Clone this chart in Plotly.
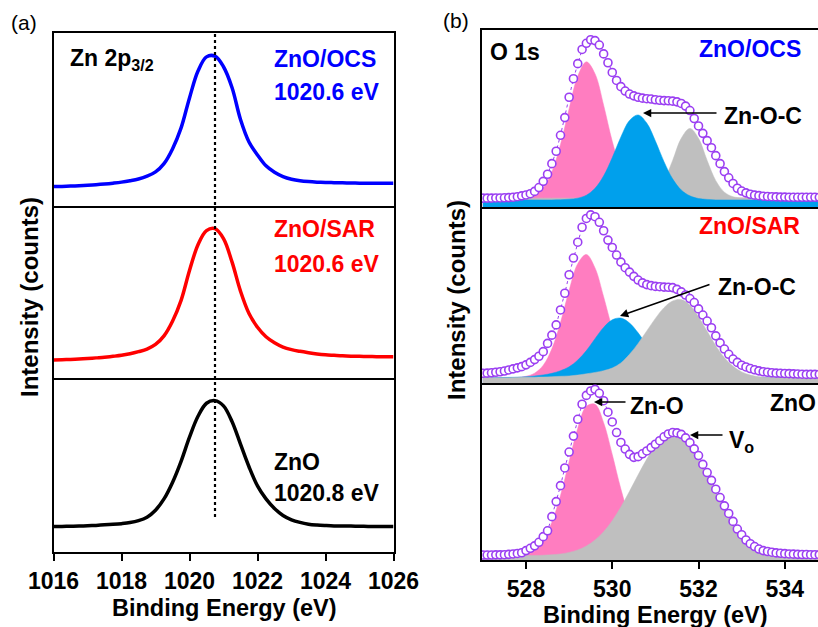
import numpy as np
import plotly.graph_objects as go

# ---------------- data : Zn 2p3/2 (panel a) ----------------
zn_energy = np.round(np.arange(1016.0, 1026.01, 0.25), 2)
zn_ocs = [0.112, 0.113, 0.115, 0.117, 0.120,
          0.123, 0.127, 0.132, 0.138, 0.146,
          0.156, 0.172, 0.197, 0.245, 0.33,
          0.45, 0.625, 0.78, 0.862, 0.866,
          0.805, 0.685, 0.50, 0.37, 0.295,
          0.232, 0.195, 0.17, 0.155, 0.146,
          0.141, 0.138, 0.136, 0.135, 0.134,
          0.133, 0.132, 0.132, 0.131, 0.131,
          0.131]
zn_sar = [0.104, 0.106, 0.108, 0.110, 0.113,
          0.117, 0.121, 0.126, 0.132, 0.141,
          0.153, 0.168, 0.195, 0.245, 0.33,
          0.45, 0.625, 0.775, 0.857, 0.868,
          0.81, 0.675, 0.505, 0.375, 0.295,
          0.24, 0.205, 0.18, 0.165, 0.155,
          0.147, 0.14, 0.135, 0.132, 0.129,
          0.127, 0.126, 0.125, 0.124, 0.124,
          0.124]
zn_zno = [0.147, 0.147, 0.148, 0.149, 0.151,
          0.153, 0.156, 0.159, 0.163, 0.169,
          0.18, 0.2, 0.24, 0.305, 0.40,
          0.52, 0.66, 0.78, 0.855, 0.87,
          0.84, 0.75, 0.62, 0.49, 0.38,
          0.305, 0.25, 0.21, 0.185, 0.17,
          0.16, 0.155, 0.152, 0.15, 0.15,
          0.149, 0.148, 0.147, 0.146, 0.146,
          0.146]
zn_ref_line = 1020.75
zn_ticks = [1016, 1018, 1020, 1022, 1024, 1026]

# ---------------- data : O 1s (panel b) ----------------
o_energy = np.round(np.arange(527.0, 534.81, 0.1), 2)
o_ocs = [0.050, 0.050, 0.050, 0.051, 0.051, 0.052, 0.053, 0.055, 0.058, 0.063,
         0.068, 0.075, 0.088, 0.11, 0.145, 0.185, 0.245, 0.315, 0.405, 0.505,
         0.62, 0.725, 0.81, 0.89, 0.925, 0.945, 0.94, 0.915, 0.865, 0.815,
         0.76, 0.715, 0.68, 0.655, 0.638, 0.628, 0.62, 0.615, 0.612, 0.61,
         0.606, 0.603, 0.601, 0.60, 0.598, 0.594, 0.585, 0.57, 0.545, 0.50,
         0.458, 0.416, 0.375, 0.335, 0.29, 0.245, 0.20, 0.165, 0.133, 0.106,
         0.09, 0.08, 0.072, 0.067, 0.064, 0.061, 0.059, 0.058, 0.057, 0.056,
         0.056, 0.055, 0.055, 0.055, 0.055, 0.055, 0.055, 0.055, 0.055]
o_sar = [0.055, 0.056, 0.058, 0.061, 0.064, 0.068, 0.074, 0.080, 0.086, 0.093,
         0.103, 0.117, 0.133, 0.152, 0.178, 0.225, 0.272, 0.33, 0.415, 0.51,
         0.615, 0.71, 0.80, 0.885, 0.935, 0.955, 0.945, 0.913, 0.865, 0.812,
         0.77, 0.727, 0.687, 0.655, 0.63, 0.606, 0.585, 0.569, 0.559, 0.553,
         0.549, 0.547, 0.545, 0.544, 0.542, 0.532, 0.518, 0.50, 0.48, 0.457,
         0.421, 0.386, 0.352, 0.314, 0.268, 0.228, 0.193, 0.163, 0.136, 0.117,
         0.101, 0.091, 0.082, 0.075, 0.069, 0.064, 0.061, 0.058, 0.056, 0.055,
         0.054, 0.053, 0.052, 0.051, 0.050, 0.049, 0.049, 0.049, 0.049]
o_zno = [0.028, 0.028, 0.028, 0.029, 0.029, 0.030, 0.032, 0.034, 0.037, 0.041,
         0.053, 0.066, 0.08, 0.10, 0.132, 0.165, 0.245, 0.33, 0.42, 0.52,
         0.61, 0.70, 0.795, 0.88, 0.93, 0.955, 0.964, 0.942, 0.90, 0.835,
         0.78, 0.72, 0.664, 0.627, 0.597, 0.58, 0.584, 0.60, 0.616, 0.635,
         0.654, 0.674, 0.696, 0.712, 0.72, 0.718, 0.71, 0.69, 0.663, 0.628,
         0.59, 0.54, 0.494, 0.45, 0.40, 0.353, 0.306, 0.263, 0.218, 0.175,
         0.143, 0.113, 0.092, 0.076, 0.062, 0.053, 0.048, 0.044, 0.04, 0.038,
         0.036, 0.034, 0.033, 0.032, 0.031, 0.031, 0.030, 0.030, 0.030]

fit_energy = np.round(np.arange(527.0, 534.81, 0.2), 2)
# ZnO/OCS fitted components
ocs_zno_peak = [0.05, 0.05, 0.05, 0.05, 0.051, 0.055, 0.069, 0.109, 0.198, 0.353,
                0.555, 0.739, 0.82, 0.753, 0.575, 0.371, 0.21, 0.116, 0.072, 0.056,
                0.051, 0.05, 0.05, 0.05, 0.05, 0.05, 0.05, 0.05, 0.05, 0.05,
                0.05, 0.05, 0.05, 0.05, 0.05, 0.05, 0.05, 0.05, 0.05, 0.05]
ocs_zoc_peak = [0.04, 0.04, 0.04, 0.04, 0.04, 0.04, 0.04, 0.04, 0.04, 0.041,
                0.044, 0.05, 0.067, 0.106, 0.176, 0.279, 0.396, 0.489, 0.52, 0.474,
                0.373, 0.256, 0.159, 0.096, 0.063, 0.048, 0.043, 0.04, 0.04, 0.04,
                0.04, 0.04, 0.04, 0.04, 0.04, 0.04, 0.04, 0.04, 0.04, 0.04]
ocs_vo_peak = [0.05, 0.05, 0.05, 0.05, 0.05, 0.05, 0.05, 0.05, 0.05, 0.05,
               0.05, 0.05, 0.05, 0.05, 0.05, 0.05, 0.05, 0.05, 0.052, 0.058,
               0.084, 0.149, 0.263, 0.388, 0.444, 0.388, 0.263, 0.149, 0.084, 0.058,
               0.052, 0.05, 0.05, 0.05, 0.05, 0.05, 0.05, 0.05, 0.05, 0.05]
# ZnO/SAR fitted components
sar_zno_peak = [0.03, 0.03, 0.03, 0.03, 0.032, 0.038, 0.056, 0.101, 0.194, 0.344,
                0.527, 0.678, 0.73, 0.654, 0.49, 0.31, 0.171, 0.089, 0.05, 0.036,
                0.031, 0.03, 0.03, 0.03, 0.03, 0.03, 0.03, 0.03, 0.03, 0.03,
                0.03, 0.03, 0.03, 0.03, 0.03, 0.03, 0.03, 0.03, 0.03, 0.03]
sar_zoc_peak = [0.03, 0.03, 0.031, 0.032, 0.033, 0.035, 0.04, 0.046, 0.055, 0.07,
                0.092, 0.13, 0.184, 0.252, 0.316, 0.359, 0.369, 0.341, 0.285, 0.217,
                0.152, 0.102, 0.067, 0.047, 0.037, 0.033, 0.03, 0.03, 0.03, 0.03,
                0.03, 0.03, 0.03, 0.03, 0.03, 0.03, 0.03, 0.03, 0.03, 0.03]
sar_vo_peak = [0.03, 0.03, 0.03, 0.03, 0.031, 0.032, 0.033, 0.034, 0.036, 0.038,
               0.04, 0.045, 0.052, 0.06, 0.07, 0.085, 0.114, 0.163, 0.225, 0.296,
               0.367, 0.428, 0.466, 0.474, 0.442, 0.377, 0.294, 0.212, 0.144, 0.095,
               0.063, 0.045, 0.036, 0.032, 0.031, 0.03, 0.03, 0.03, 0.03, 0.03]
# ZnO fitted components
zno_zno_peak = [0.025, 0.025, 0.025, 0.026, 0.029, 0.038, 0.062, 0.115, 0.213, 0.365,
                0.556, 0.744, 0.868, 0.88, 0.776, 0.596, 0.401, 0.239, 0.131, 0.07,
                0.042, 0.031, 0.027, 0.025, 0.025, 0.025, 0.025, 0.025, 0.025, 0.025,
                0.025, 0.025, 0.025, 0.025, 0.025, 0.025, 0.025, 0.025, 0.025, 0.025]
zno_vo_peak = [0.025, 0.025, 0.025, 0.025, 0.025, 0.025, 0.025, 0.027, 0.03, 0.034,
               0.043, 0.057, 0.079, 0.113, 0.16, 0.222, 0.30, 0.388, 0.481, 0.57,
               0.644, 0.693, 0.71, 0.693, 0.644, 0.57, 0.481, 0.388, 0.29, 0.205,
               0.135, 0.088, 0.056, 0.04, 0.032, 0.028, 0.026, 0.025, 0.025, 0.025]
o_ticks = [528, 530, 532, 534]

# ---------------- styling ----------------
W, H = 818, 627
FONT = "Liberation Sans, Arial, sans-serif"
PINK = "#FF7DC0"
CYAN = "#00A0EC"
GRAY = "#BFBFBF"
PURPLE = "#9B3FF2"


def px(x):
    return x / W


def py(y):
    return 1 - y / H


fig = go.Figure()

left_sets = [("", zn_ocs, "#0000FF"), ("2", zn_sar, "#FF0000"), ("3", zn_zno, "#000000")]
for suf, vals, col in left_sets:
    fig.add_trace(go.Scatter(x=zn_energy, y=vals, mode="lines",
                             line=dict(color=col, width=3.5, shape="spline", smoothing=1),
                             xaxis="x" + suf, yaxis="y" + suf, showlegend=False, hoverinfo="skip"))

right_sets = [
    ("4", [(ocs_zno_peak, PINK), (ocs_vo_peak, GRAY), (ocs_zoc_peak, CYAN)], o_ocs),
    ("5", [(sar_zno_peak, PINK), (sar_zoc_peak, CYAN), (sar_vo_peak, GRAY)], o_sar),
    ("6", [(zno_zno_peak, PINK), (zno_vo_peak, GRAY)], o_zno),
]
for suf, comps, pts in right_sets:
    for vals, col in comps:
        fig.add_trace(go.Scatter(x=fit_energy, y=vals, mode="lines", fill="tozeroy",
                                 fillcolor=col, line=dict(color=col, width=0.5, shape="spline", smoothing=1),
                                 xaxis="x" + suf, yaxis="y" + suf, showlegend=False, hoverinfo="skip"))
    fig.add_trace(go.Scatter(x=o_energy, y=pts, mode="lines+markers",
                             line=dict(color=PURPLE, width=1, dash="dot"),
                             marker=dict(symbol="circle", size=8, color="white",
                                         line=dict(color=PURPLE, width=1.6)),
                             xaxis="x" + suf, yaxis="y" + suf, showlegend=False, hoverinfo="skip"))

tickfont = dict(family=FONT, size=23, color="black", weight="bold")
left_dom = [px(53.5), px(393.5)]
right_dom = [px(482), 1.0]
left_ydoms = [[py(206), py(33)], [py(378), py(206)], [py(552), py(378)]]
right_ydoms = [[py(207), py(30)], [py(383), py(207)], [py(560), py(383)]]

layout = dict(width=W, height=H, autosize=False,
              margin=dict(l=0, r=0, t=0, b=0, pad=0, autoexpand=False),
              paper_bgcolor="white", plot_bgcolor="white", showlegend=False)

for i, suf in enumerate(["", "2", "3"]):
    bottom = i == 2
    xa = dict(range=[1016, 1026], domain=left_dom, anchor="y" + suf, showline=True, linewidth=2,
              linecolor="black", mirror=(i == 0), showgrid=False, zeroline=False, automargin=False)
    if bottom:
        xa.update(ticks="outside", ticklen=7, tickwidth=2, tickcolor="black",
                  tickvals=zn_ticks, ticktext=[str(t) for t in zn_ticks], tickfont=tickfont)
    else:
        xa.update(showticklabels=False, ticks="")
    ya = dict(range=[0, 1], domain=left_ydoms[i], anchor="x" + suf, showline=True, linewidth=2,
              linecolor="black", mirror=True, showgrid=False, zeroline=False,
              showticklabels=False, ticks="", automargin=False)
    layout["xaxis" + suf] = xa
    layout["yaxis" + suf] = ya

for i, suf in enumerate(["4", "5", "6"]):
    bottom = i == 2
    xa = dict(range=[526.98, 534.77], domain=right_dom, anchor="y" + suf, showline=True, linewidth=2,
              linecolor="black", mirror=(i == 0), showgrid=False, zeroline=False, automargin=False)
    if bottom:
        xa.update(ticks="outside", ticklen=7, tickwidth=2, tickcolor="black",
                  tickvals=o_ticks, ticktext=[str(t) for t in o_ticks], tickfont=tickfont)
    else:
        xa.update(showticklabels=False, ticks="")
    ya = dict(range=[0, 1], domain=right_ydoms[i], anchor="x" + suf, showline=True, linewidth=2,
              linecolor="black", mirror=False, showgrid=False, zeroline=False,
              showticklabels=False, ticks="", automargin=False)
    layout["xaxis" + suf] = xa
    layout["yaxis" + suf] = ya

fig.update_layout(**layout)

fig.add_shape(type="line", xref="x3", yref="paper", x0=zn_ref_line, x1=zn_ref_line,
              y0=py(517), y1=py(34), line=dict(color="black", width=2.2, dash="dot"))


def text(x, y, s, size=23, color="black", xanchor="center", bold=True, angle=0):
    fig.add_annotation(x=px(x), y=py(y), xref="paper", yref="paper", text=s, showarrow=False,
                       xanchor=xanchor, yanchor="middle", textangle=angle,
                       font=dict(family=FONT, size=size, color=color,
                                 weight="bold" if bold else "normal"))


def arrow(hx, hy, tx, ty):
    fig.add_annotation(x=px(hx), y=py(hy), xref="paper", yref="paper", text="",
                       showarrow=True, ax=tx - hx, ay=ty - hy, axref="pixel", ayref="pixel",
                       arrowhead=2, arrowsize=1.1, arrowwidth=1.5, arrowcolor="black")


text(24, 22, "(a)", size=21, bold=False)
text(456, 21, "(b)", size=21, bold=False)

text(68, 59, "Zn 2p<sub>3/2</sub>", xanchor="left")
text(272, 59, "ZnO/OCS", color="#0000FF", xanchor="left")
text(272, 92, "1020.6 eV", color="#0000FF", xanchor="left")
text(272, 229, "ZnO/SAR", color="#FF0000", xanchor="left")
text(272, 264, "1020.6 eV", color="#FF0000", xanchor="left")
text(272, 462, "ZnO", xanchor="left")
text(272, 493, "1020.8 eV", xanchor="left")

text(488, 52, "O 1s", xanchor="left")
text(697, 49, "ZnO/OCS", color="#0000FF", xanchor="left")
text(697, 226, "ZnO/SAR", color="#FF0000", xanchor="left")
text(768, 403, "ZnO", xanchor="left")
text(722, 116, "Zn-O-C", xanchor="left")
text(716, 287, "Zn-O-C", xanchor="left")
text(628, 406, "Zn-O", xanchor="left")
text(727, 441, "V<sub>o</sub>", xanchor="left")

arrow(643, 113, 718, 113)
arrow(620, 316, 711, 284)
arrow(594, 402, 627, 402)
arrow(690, 435, 724, 435)

text(30, 297, "Intensity (counts)", size=24, angle=-90)
text(456, 300, "Intensity (counts)", size=24, angle=-90)
text(224, 608, "Binding Energy (eV)", size=23.5)
text(655, 615, "Binding Energy (eV)", size=23.5)

fig.write_html("out.html", config={"displayModeBar": False},
               post_script="document.body.style.margin='0px';document.body.style.overflow='hidden';")
